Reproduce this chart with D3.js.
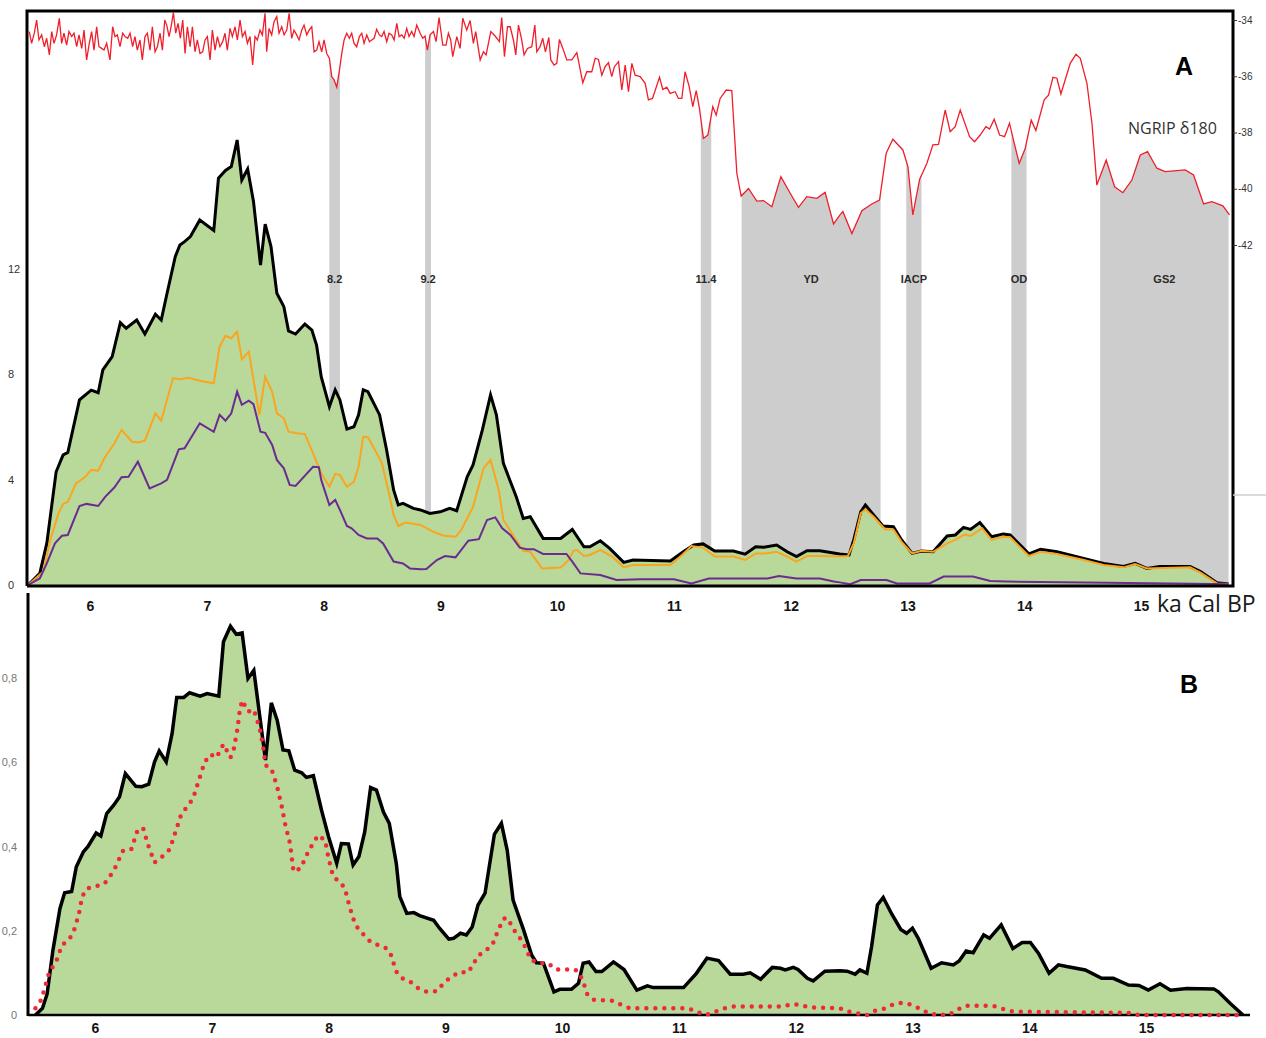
<!DOCTYPE html>
<html>
<head>
<meta charset="utf-8">
<script src="https://cdn.jsdelivr.net/npm/d3@7"></script>
<style>
body { margin: 0; background: #fff; }
svg { display: block; }
</style>
</head>
<body>
<svg width="1266" height="1038"></svg>
<script>
// ages in ka cal BP
var kaTicks = [6, 7, 8, 9, 10, 11, 12, 13, 14, 15];
var countTicksA = [0, 4, 8, 12];
var ngripTicks = [-34, -36, -38, -40, -42];
var probTicksB = [0, 0.2, 0.4, 0.6, 0.8];

// cold events
var bandNames = ["8.2", "9.2", "11.4", "YD", "IACP", "OD", "GS2"];
var bandStart = [8.05, 8.87, 11.23, 11.58, 12.99, 13.89, 14.65];
var bandEnd = [8.14, 8.92, 11.32, 12.77, 13.12, 14.02, 15.75];

// NGRIP d18O  [age, permil]
var ngrip = [
[5.480,-34.41],[5.500,-34.83],[5.523,-34.47],[5.543,-34.00],[5.563,-34.71],[5.586,-34.53],[5.609,-34.95],[5.629,-34.65],
[5.652,-35.24],[5.672,-34.41],[5.692,-34.83],[5.714,-34.53],[5.737,-33.94],[5.757,-34.83],[5.777,-34.47],[5.800,-34.89],
[5.820,-34.41],[5.843,-34.59],[5.863,-34.47],[5.886,-34.95],[5.906,-34.53],[5.929,-35.01],[5.949,-34.36],[5.971,-35.42],
[5.994,-34.83],[6.014,-34.41],[6.034,-35.07],[6.057,-34.24],[6.077,-34.95],[6.100,-35.01],[6.120,-35.07],[6.143,-34.83],
[6.171,-35.42],[6.194,-34.24],[6.214,-34.59],[6.234,-34.53],[6.257,-34.95],[6.280,-34.47],[6.300,-34.59],[6.323,-34.65],
[6.343,-34.47],[6.365,-34.95],[6.385,-34.59],[6.405,-35.07],[6.428,-34.71],[6.448,-35.42],[6.471,-34.59],[6.491,-34.47],
[6.514,-35.07],[6.534,-34.24],[6.557,-35.13],[6.577,-34.95],[6.600,-34.47],[6.620,-35.07],[6.640,-34.00],[6.657,-34.18],
[6.677,-34.59],[6.697,-34.18],[6.714,-33.74],[6.734,-34.47],[6.754,-34.12],[6.774,-34.65],[6.794,-34.00],[6.814,-35.19],
[6.834,-34.24],[6.857,-34.95],[6.877,-34.24],[6.899,-35.13],[6.919,-34.71],[6.942,-35.19],[6.965,-35.13],[6.985,-34.71],
[7.005,-34.59],[7.028,-35.42],[7.048,-34.36],[7.071,-35.07],[7.091,-34.59],[7.113,-34.95],[7.136,-34.77],[7.156,-34.47],
[7.176,-35.07],[7.199,-34.30],[7.219,-34.59],[7.242,-34.24],[7.262,-34.71],[7.285,-34.00],[7.305,-34.59],[7.328,-34.41],
[7.348,-34.83],[7.370,-34.59],[7.393,-35.60],[7.413,-34.59],[7.433,-34.71],[7.456,-34.36],[7.476,-34.53],[7.499,-33.76],
[7.513,-35.13],[7.533,-34.30],[7.556,-34.53],[7.576,-34.06],[7.599,-33.88],[7.619,-34.47],[7.642,-34.24],[7.662,-34.53],
[7.685,-34.36],[7.705,-33.76],[7.727,-34.65],[7.747,-34.36],[7.770,-34.53],[7.790,-34.71],[7.813,-34.36],[7.833,-34.18],
[7.856,-34.53],[7.876,-34.36],[7.899,-34.24],[7.919,-35.13],[7.941,-35.07],[7.961,-34.77],[7.984,-35.13],[8.004,-34.71],
[8.027,-35.19],[8.050,-35.36],[8.070,-36.01],[8.090,-36.13],[8.113,-36.39],[8.136,-35.78],[8.156,-35.19],[8.176,-34.71],
[8.198,-34.47],[8.221,-34.65],[8.241,-34.47],[8.261,-34.83],[8.284,-34.95],[8.307,-34.59],[8.327,-34.47],[8.347,-34.83],
[8.370,-34.53],[8.393,-34.77],[8.413,-34.71],[8.433,-34.65],[8.455,-34.33],[8.478,-34.53],[8.498,-34.59],[8.518,-34.41],
[8.541,-34.77],[8.561,-34.47],[8.584,-34.53],[8.604,-34.71],[8.627,-34.12],[8.647,-34.59],[8.670,-34.53],[8.690,-34.65],
[8.712,-34.30],[8.732,-34.59],[8.755,-34.41],[8.775,-34.59],[8.798,-34.18],
[8.827,-34.47],[8.850,-34.65],[8.869,-34.57],[8.889,-35.07],[8.912,-34.53],[8.941,-34.41],[8.964,-34.77],[8.989,-33.91],
[9.021,-34.89],[9.049,-34.89],[9.069,-34.47],[9.089,-34.71],[9.106,-35.30],[9.141,-34.59],[9.169,-35.01],[9.192,-33.94],
[9.226,-34.36],[9.255,-34.02],[9.283,-34.83],[9.303,-34.41],[9.341,-35.42],[9.369,-35.13],[9.392,-35.24],[9.432,-34.41],
[9.469,-34.57],[9.506,-34.77],[9.526,-33.91],[9.549,-35.30],[9.575,-34.24],[9.598,-34.24],[9.626,-34.71],[9.646,-35.24],
[9.669,-34.18],[9.697,-34.71],[9.717,-35.24],[9.746,-35.01],[9.783,-34.95],[9.809,-34.18],[9.826,-35.13],[9.854,-34.95],
[9.877,-34.65],[9.900,-35.13],[9.929,-34.62],[9.946,-35.42],[9.974,-35.60],[9.997,-35.54],[10.020,-34.69],[10.049,-35.01],
[10.083,-35.42],[10.126,-35.42],[10.169,-35.16],[10.220,-36.23],[10.254,-35.84],[10.297,-35.84],[10.326,-35.36],[10.354,-35.40],
[10.383,-35.96],[10.411,-35.66],[10.440,-35.52],[10.468,-36.01],[10.491,-35.66],[10.526,-35.48],[10.554,-36.49],[10.583,-35.60],
[10.611,-36.55],[10.640,-35.54],[10.668,-35.96],[10.711,-36.01],[10.754,-36.25],[10.782,-36.84],[10.817,-36.79],[10.877,-36.04],
[10.905,-36.47],[10.939,-36.39],[10.968,-36.61],[11.011,-36.55],[11.039,-36.79],[11.068,-36.79],[11.096,-35.84],[11.131,-36.37],
[11.162,-37.08],[11.191,-36.51],[11.219,-37.14],[11.253,-38.21],[11.291,-38.09],[11.333,-37.08],[11.362,-37.38],[11.396,-36.79],
[11.448,-36.49],[11.496,-36.51],[11.539,-39.45],[11.576,-40.26],[11.639,-39.99],[11.710,-40.44],[11.767,-40.42],[11.839,-40.64],
[11.916,-39.57],[11.996,-40.16],[12.067,-40.66],[12.138,-40.28],[12.224,-40.34],[12.295,-40.13],[12.367,-41.25],[12.424,-40.92],
[12.447,-40.81],[12.524,-41.59],[12.610,-40.78],[12.695,-40.54],[12.761,-40.40],[12.818,-38.74],[12.875,-38.24],[12.961,-38.62],
[13.004,-39.21],[13.046,-40.93],[13.104,-39.67],[13.166,-39.10],[13.218,-38.44],[13.266,-38.42],[13.323,-37.20],[13.366,-37.97],
[13.409,-37.79],[13.452,-37.20],[13.532,-38.15],[13.575,-38.33],[13.623,-38.09],[13.672,-37.79],[13.703,-37.88],[13.743,-37.53],
[13.789,-38.09],[13.832,-38.15],[13.874,-37.67],[13.908,-38.27],[13.957,-39.10],[14.009,-38.56],[14.060,-37.56],[14.100,-37.93],
[14.171,-36.84],[14.208,-36.67],[14.246,-36.04],[14.280,-36.07],[14.314,-36.63],[14.394,-35.54],[14.443,-35.22],[14.480,-35.36],
[14.537,-36.25],[14.580,-37.67],[14.622,-39.87],[14.702,-38.98],[14.774,-39.93],[14.845,-40.14],[14.922,-39.69],[14.994,-38.80],
[15.056,-38.68],[15.136,-39.27],[15.207,-39.39],[15.379,-39.33],[15.450,-39.51],[15.536,-40.54],[15.607,-40.46],[15.701,-40.61],
[15.758,-40.93]
];

// panel A: total (black), orange and purple series
var totalA = [
[5.47,0],[5.57,0.44],[5.63,1.58],[5.71,4.3],[5.77,4.94],[5.81,5.03],[5.91,7.03],[6.01,7.4],[6.07,7.3],[6.11,8.17],
[6.19,8.67],[6.26,9.96],[6.31,9.75],[6.40,10.06],[6.47,9.53],[6.56,10.28],[6.61,10.06],[6.66,11.08],[6.73,12.47],[6.77,12.91],
[6.81,13.04],[6.86,13.23],[6.94,13.86],[7.06,13.46],[7.10,15.45],[7.16,15.74],[7.21,15.89],[7.26,16.9],[7.30,15.38],[7.35,15.8],
[7.40,14.56],[7.46,12.15],[7.50,13.7],[7.55,12.85],[7.60,11.08],[7.66,10.57],[7.70,9.65],[7.76,9.53],[7.84,9.91],[7.90,9.68],
[7.94,9.11],[7.98,7.91],[8.05,6.77],[8.10,7.41],[8.14,7.03],[8.20,5.92],[8.26,6.01],[8.30,6.46],[8.34,7.41],[8.38,7.34],
[8.48,6.46],[8.54,5.13],[8.60,3.61],[8.64,3.04],[8.68,3.10],[8.77,2.91],[8.83,2.85],[8.91,2.72],[9.00,2.78],[9.08,2.91],
[9.14,2.82],[9.23,4.11],[9.28,4.56],[9.36,5.89],[9.43,7.22],[9.48,6.46],[9.54,4.62],[9.65,3.35],[9.71,2.53],[9.77,2.59],
[9.88,1.77],[10.03,1.77],[10.13,2.11],[10.23,1.45],[10.28,1.45],[10.37,1.68],[10.45,1.39],[10.57,0.86],[10.65,0.95],[10.97,0.91],
[11.08,1.26],[11.17,1.52],[11.25,1.56],[11.35,1.29],[11.51,1.29],[11.61,1.17],[11.70,1.45],[11.77,1.43],[11.88,1.52],[11.97,1.26],
[12.05,1.08],[12.14,1.30],[12.25,1.30],[12.42,1.18],[12.50,1.14],[12.54,1.71],[12.60,2.78],[12.64,3.04],[12.71,2.66],[12.79,2.24],
[12.88,2.21],[12.95,1.71],[13.04,1.20],[13.12,1.29],[13.22,1.26],[13.34,1.86],[13.41,1.90],[13.48,2.19],[13.54,2.11],[13.62,2.37],
[13.72,1.83],[13.82,1.94],[13.88,1.90],[14.04,1.18],[14.14,1.36],[14.28,1.26],[14.51,1.01],[14.68,0.82],[14.85,0.70],[14.95,0.82],
[15.05,0.63],[15.16,0.70],[15.42,0.70],[15.51,0.51],[15.65,0.09],[15.75,0.04]
];

var orangeA = [
[5.47,0],[5.60,0.51],[5.66,1.71],[5.73,2.72],[5.77,3.08],[5.81,3.16],[5.88,3.86],[5.96,4.11],[6.01,4.37],[6.07,4.34],
[6.13,4.87],[6.21,5.38],[6.27,5.89],[6.36,5.44],[6.41,5.41],[6.47,5.48],[6.56,6.52],[6.61,6.24],[6.71,7.85],[6.77,7.81],
[6.84,7.87],[6.94,7.76],[7.06,7.66],[7.11,9.05],[7.16,9.46],[7.21,9.37],[7.26,9.62],[7.30,8.57],[7.36,8.86],[7.45,6.46],
[7.50,7.91],[7.56,7.34],[7.60,6.52],[7.66,6.33],[7.70,5.82],[7.77,5.76],[7.84,5.73],[7.91,5.0],[7.98,4.24],[8.05,3.73],
[8.10,4.22],[8.14,4.18],[8.20,3.73],[8.26,3.92],[8.30,4.49],[8.34,5.63],[8.38,5.61],[8.44,5.13],[8.50,4.62],[8.56,3.48],
[8.60,2.66],[8.64,2.24],[8.70,2.37],[8.83,2.28],[8.94,2.02],[9.03,1.87],[9.13,1.83],[9.18,2.09],[9.28,2.97],[9.37,4.43],
[9.43,4.75],[9.50,3.61],[9.54,2.47],[9.64,1.77],[9.71,1.30],[9.77,1.26],[9.87,0.63],[10.03,0.66],[10.10,0.95],[10.14,1.30],
[10.17,1.33],[10.23,1.10],[10.28,1.14],[10.37,1.33],[10.47,1.08],[10.57,0.67],[10.65,0.76],[10.97,0.76],[11.07,1.14],[11.15,1.48],
[11.25,1.42],[11.35,1.08],[11.51,1.08],[11.61,0.95],[11.70,1.20],[11.78,1.20],[11.88,1.26],[11.97,1.08],[12.05,0.89],[12.14,1.10],
[12.28,1.10],[12.42,1.08],[12.49,1.10],[12.54,1.58],[12.60,2.72],[12.64,2.87],[12.71,2.59],[12.81,2.11],[12.88,2.11],[12.95,1.64],
[13.04,1.20],[13.12,1.30],[13.22,1.26],[13.34,1.58],[13.41,1.71],[13.49,1.92],[13.54,1.86],[13.64,2.15],[13.72,1.71],[13.82,1.83],
[13.88,1.81],[14.04,1.10],[14.14,1.26],[14.28,1.18],[14.51,0.95],[14.68,0.76],[14.85,0.67],[14.95,0.80],[15.05,0.63],[15.42,0.67],
[15.51,0.47],[15.65,0.06],[15.75,0.04]
];

var purpleA = [
[5.47,0],[5.57,0.25],[5.63,0.82],[5.70,1.58],[5.76,1.87],[5.81,1.90],[5.91,3.0],[5.97,3.08],[6.07,3.0],[6.13,3.35],
[6.21,3.71],[6.27,4.09],[6.33,4.11],[6.41,4.68],[6.51,3.67],[6.61,3.86],[6.66,3.99],[6.76,5.15],[6.81,5.19],[6.94,6.14],
[7.06,5.82],[7.11,6.46],[7.16,6.24],[7.21,6.52],[7.26,7.34],[7.30,6.84],[7.36,7.0],[7.40,6.87],[7.46,5.82],[7.50,5.78],
[7.56,5.32],[7.60,4.75],[7.66,4.43],[7.71,3.80],[7.76,3.76],[7.91,4.49],[7.96,4.47],[7.98,3.99],[8.05,3.04],[8.10,3.23],
[8.14,2.85],[8.20,2.24],[8.24,2.15],[8.30,1.90],[8.37,1.77],[8.46,1.77],[8.51,1.58],[8.60,0.89],[8.68,0.82],[8.74,0.63],
[8.83,0.60],[8.88,0.61],[8.97,0.95],[9.04,1.10],[9.13,1.05],[9.24,1.68],[9.33,1.74],[9.40,2.47],[9.47,2.57],[9.53,2.15],
[9.60,1.90],[9.68,1.42],[9.74,1.36],[9.80,1.36],[9.88,1.18],[10.08,1.18],[10.13,0.89],[10.20,0.44],[10.37,0.38],[10.51,0.19],
[10.71,0.22],[11.00,0.22],[11.15,0.06],[11.30,0.25],[11.80,0.25],[11.90,0.34],[12.05,0.25],[12.25,0.25],[12.37,0.13],[12.42,0.10],
[12.51,0.03],[12.60,0.19],[12.82,0.19],[12.91,0.06],[13.19,0.06],[13.31,0.32],[13.56,0.32],[13.71,0.15],[13.85,0.13],[14.71,0.09],
[15.62,0.04],[15.75,0.03]
];

// panel B: black curve and red dotted curve
var totalB = [
[5.49,0],[5.55,0.016],[5.59,0.05],[5.64,0.154],[5.70,0.253],[5.74,0.29],[5.80,0.293],[5.84,0.352],[5.90,0.387],[5.94,0.40],
[6.01,0.432],[6.05,0.425],[6.10,0.478],[6.16,0.498],[6.21,0.518],[6.26,0.573],[6.35,0.543],[6.40,0.542],[6.46,0.548],[6.51,0.601],
[6.55,0.627],[6.61,0.601],[6.66,0.668],[6.70,0.754],[6.76,0.754],[6.81,0.765],[6.90,0.757],[6.96,0.763],[7.06,0.757],[7.10,0.886],
[7.16,0.923],[7.21,0.904],[7.26,0.907],[7.31,0.799],[7.36,0.818],[7.46,0.605],[7.51,0.741],[7.56,0.70],[7.61,0.629],[7.66,0.627],
[7.71,0.581],[7.77,0.575],[7.81,0.564],[7.87,0.568],[7.94,0.486],[8.00,0.423],[8.07,0.360],[8.11,0.407],[8.17,0.406],[8.21,0.356],
[8.26,0.376],[8.31,0.435],[8.36,0.540],[8.41,0.534],[8.47,0.482],[8.52,0.455],[8.58,0.360],[8.61,0.281],[8.67,0.241],[8.73,0.243],
[8.78,0.236],[8.90,0.225],[8.95,0.206],[9.03,0.180],[9.07,0.182],[9.13,0.194],[9.18,0.190],[9.23,0.209],[9.28,0.261],[9.34,0.289],
[9.42,0.429],[9.48,0.455],[9.53,0.391],[9.58,0.273],[9.67,0.202],[9.74,0.142],[9.78,0.124],[9.84,0.123],[9.93,0.055],[9.98,0.061],
[10.08,0.061],[10.14,0.075],[10.18,0.123],[10.23,0.126],[10.29,0.103],[10.34,0.103],[10.44,0.126],[10.53,0.108],[10.64,0.059],[10.73,0.069],
[10.78,0.065],[11.04,0.065],[11.15,0.099],[11.24,0.135],[11.34,0.129],[11.44,0.097],[11.55,0.097],[11.61,0.100],[11.70,0.085],[11.80,0.113],
[11.87,0.111],[11.91,0.107],[11.98,0.113],[12.02,0.108],[12.10,0.087],[12.15,0.081],[12.25,0.104],[12.38,0.105],[12.44,0.104],[12.51,0.097],
[12.55,0.107],[12.61,0.099],[12.65,0.162],[12.70,0.261],[12.75,0.279],[12.82,0.241],[12.90,0.203],[12.95,0.194],[13.00,0.206],[13.05,0.182],
[13.16,0.111],[13.25,0.124],[13.35,0.119],[13.40,0.128],[13.46,0.152],[13.52,0.148],[13.61,0.190],[13.66,0.182],[13.76,0.214],[13.86,0.158],
[13.94,0.172],[14.01,0.172],[14.08,0.146],[14.17,0.099],[14.25,0.119],[14.32,0.115],[14.48,0.107],[14.62,0.087],[14.72,0.087],[14.85,0.071],
[14.94,0.070],[15.02,0.059],[15.12,0.074],[15.21,0.059],[15.35,0.063],[15.58,0.062],[15.62,0.055],[15.72,0.028],[15.83,0]
];

var redB = [
[5.49,0.016],[5.54,0.036],[5.61,0.103],[5.66,0.123],[5.69,0.142],[5.71,0.164],[5.77,0.178],[5.81,0.192],[5.86,0.237],[5.89,0.281],
[5.93,0.30],[6.01,0.306],[6.08,0.311],[6.13,0.33],[6.17,0.348],[6.24,0.390],[6.31,0.393],[6.36,0.435],[6.41,0.445],[6.46,0.399],
[6.51,0.362],[6.58,0.377],[6.64,0.393],[6.69,0.435],[6.74,0.478],[6.79,0.494],[6.84,0.514],[6.89,0.558],[6.94,0.601],[6.99,0.619],
[7.04,0.611],[7.10,0.643],[7.16,0.611],[7.19,0.633],[7.22,0.679],[7.24,0.724],[7.26,0.747],[7.31,0.720],[7.36,0.725],[7.41,0.680],
[7.44,0.637],[7.46,0.593],[7.51,0.585],[7.56,0.542],[7.60,0.494],[7.63,0.451],[7.67,0.407],[7.70,0.340],[7.76,0.348],[7.83,0.390],
[7.91,0.427],[7.97,0.415],[8.00,0.372],[8.04,0.328],[8.10,0.316],[8.14,0.30],[8.18,0.257],[8.23,0.213],[8.28,0.198],[8.33,0.180],
[8.40,0.168],[8.48,0.162],[8.53,0.146],[8.58,0.103],[8.64,0.085],[8.71,0.077],[8.77,0.063],[8.84,0.055],[8.93,0.057],[8.98,0.074],
[9.05,0.091],[9.13,0.103],[9.19,0.100],[9.24,0.119],[9.27,0.138],[9.34,0.153],[9.40,0.164],[9.43,0.186],[9.46,0.206],[9.50,0.229],
[9.54,0.229],[9.57,0.208],[9.62,0.190],[9.67,0.170],[9.70,0.150],[9.74,0.130],[9.81,0.123],[9.88,0.123],[9.95,0.108],[10.11,0.108],
[10.15,0.099],[10.19,0.071],[10.21,0.051],[10.27,0.036],[10.43,0.034],[10.51,0.024],[10.58,0.016],[11.08,0.016],[11.15,0.008],[11.23,0],
[11.31,0.008],[11.39,0.016],[11.47,0.020],[11.88,0.020],[11.97,0.026],[12.04,0.024],[12.12,0.018],[12.38,0.016],[12.45,0.008],[12.61,0],
[12.68,0.010],[12.77,0.016],[12.84,0.026],[12.92,0.029],[13.00,0.024],[13.07,0.014],[13.15,0.002],[13.31,0],[13.38,0.012],[13.45,0.022],
[13.69,0.022],[13.78,0.014],[13.86,0.008],[14.85,0.005],[14.94,0],[15.85,0]
];

var svg = d3.select("svg");
var green = "#b9d99b";

var xA = d3.scaleLinear().domain([6, 15]).range([90, 1141]);
var yA = d3.scaleLinear().domain([0, 12]).range([585, 269]);
var yN = d3.scaleLinear().domain([-34, -42]).range([20, 245]);
var xB = d3.scaleLinear().domain([6, 15]).range([95, 1146]);
var yB = d3.scaleLinear().domain([0, 0.8]).range([1015, 678]);

// ---------- panel A ----------
// grey event bands, topped by the NGRIP curve
var clip = svg.append("clipPath").attr("id", "bands");
clip.selectAll("rect")
    .data(bandNames)
    .enter()
    .append("rect")
    .attr("x", function(d, i) { return xA(bandStart[i]); })
    .attr("width", function(d, i) { return xA(bandEnd[i]) - xA(bandStart[i]); })
    .attr("y", 0)
    .attr("height", yA(0));

var bandArea = d3.area()
    .x(function(d) { return xA(d[0]); })
    .y0(yA(0))
    .y1(function(d) { return yN(d[1]); });

svg.append("path")
    .datum(ngrip)
    .attr("d", bandArea)
    .attr("fill", "#cdcdcd")
    .attr("clip-path", "url(#bands)");

svg.selectAll(".bandlabel")
    .data(bandNames)
    .enter()
    .append("text")
    .attr("class", "bandlabel")
    .attr("x", function(d, i) { return xA((bandStart[i] + bandEnd[i]) / 2); })
    .attr("y", 283)
    .attr("text-anchor", "middle")
    .attr("font-family", "Liberation Sans, Arial, sans-serif")
    .attr("font-size", 11)
    .attr("font-weight", "bold")
    .attr("fill", "#2a2a2a")
    .text(function(d) { return d; });

var areaA = d3.area()
    .x(function(d) { return xA(d[0]); })
    .y0(yA(0))
    .y1(function(d) { return yA(d[1]); });

var lineA = d3.line()
    .x(function(d) { return xA(d[0]); })
    .y(function(d) { return yA(d[1]); });

svg.append("path").datum(totalA).attr("d", areaA).attr("fill", green);
svg.append("path").datum(totalA).attr("d", lineA)
    .attr("fill", "none").attr("stroke", "#000").attr("stroke-width", 3);
svg.append("path").datum(orangeA).attr("d", lineA)
    .attr("fill", "none").attr("stroke", "#fba51f").attr("stroke-width", 2);
svg.append("path").datum(purpleA).attr("d", lineA)
    .attr("fill", "none").attr("stroke", "#6a2c91").attr("stroke-width", 2);

var ngripLine = d3.line()
    .x(function(d) { return xA(d[0]); })
    .y(function(d) { return yN(d[1]); });

svg.append("path").datum(ngrip).attr("d", ngripLine)
    .attr("fill", "none").attr("stroke", "#f01e2a").attr("stroke-width", 1.3);

// frame
var frame = [[27, 586], [27, 11], [1233, 11], [1233, 586], [27, 586]];
svg.append("path")
    .attr("d", d3.line()(frame))
    .attr("fill", "none").attr("stroke", "#000").attr("stroke-width", 3);
svg.append("line")
    .attr("x1", 1233).attr("x2", 1266).attr("y1", 495).attr("y2", 495)
    .attr("stroke", "#cfcfcf").attr("stroke-width", 1.5);

// axes
var axA = svg.append("g")
    .attr("transform", "translate(0,585)")
    .call(d3.axisBottom(xA).tickValues(kaTicks).tickSize(0).tickPadding(16));
axA.select(".domain").remove();
axA.attr("font-size", 14).attr("font-weight", "bold")
    .attr("font-family", "Liberation Sans, Arial, sans-serif").attr("color", "#151515");

var ayA = svg.append("g")
    .attr("transform", "translate(27,0)")
    .call(d3.axisLeft(yA).tickValues(countTicksA).tickSize(0));
ayA.select(".domain").remove();
ayA.attr("font-size", 11).attr("font-family", "Liberation Sans, Arial, sans-serif").attr("color", "#333");
ayA.selectAll("text").attr("x", -19).attr("text-anchor", "start");

var ayN = svg.append("g")
    .attr("transform", "translate(1233,0)")
    .call(d3.axisRight(yN).tickValues(ngripTicks).tickSize(4).tickPadding(1)
        .tickFormat(function(d) { return String(d); }));
ayN.select(".domain").remove();
ayN.attr("font-size", 10).attr("font-family", "Liberation Sans, Arial, sans-serif").attr("color", "#333");

svg.append("text")
    .attr("x", 1157).attr("y", 612)
    .attr("font-family", "Open Sans, sans-serif").attr("font-size", 23)
    .attr("fill", "#1a1a1a")
    .text("ka Cal BP");

svg.append("text")
    .attr("x", 1128).attr("y", 134)
    .attr("font-family", "Open Sans, sans-serif").attr("font-size", 16)
    .attr("fill", "#333")
    .text("NGRIP δ180");

svg.append("text")
    .attr("x", 1184).attr("y", 75)
    .attr("text-anchor", "middle")
    .attr("font-family", "Liberation Sans, Arial, sans-serif").attr("font-size", 25)
    .attr("font-weight", "bold")
    .text("A");

// ---------- panel B ----------
var areaB = d3.area()
    .x(function(d) { return xB(d[0]); })
    .y0(yB(0))
    .y1(function(d) { return yB(d[1]); });

var lineB = d3.line()
    .x(function(d) { return xB(d[0]); })
    .y(function(d) { return yB(d[1]); });

svg.append("path").datum(totalB).attr("d", areaB).attr("fill", green);

svg.append("line")
    .attr("x1", 28).attr("x2", 1250).attr("y1", 1015).attr("y2", 1015)
    .attr("stroke", "#000").attr("stroke-width", 2.5);
svg.append("line")
    .attr("x1", 28).attr("x2", 28).attr("y1", 593).attr("y2", 1016)
    .attr("stroke", "#000").attr("stroke-width", 3);

svg.append("path").datum(totalB).attr("d", lineB)
    .attr("fill", "none").attr("stroke", "#000").attr("stroke-width", 3.5);

svg.append("path").datum(redB).attr("d", lineB)
    .attr("fill", "none").attr("stroke", "#ee2a3a").attr("stroke-width", 4.5)
    .attr("stroke-linecap", "round").attr("stroke-dasharray", "0,9");

var axB = svg.append("g")
    .attr("transform", "translate(0,1015)")
    .call(d3.axisBottom(xB).tickValues(kaTicks).tickSize(0).tickPadding(8));
axB.select(".domain").remove();
axB.attr("font-size", 14).attr("font-weight", "bold")
    .attr("font-family", "Liberation Sans, Arial, sans-serif").attr("color", "#151515");

var ayB = svg.append("g")
    .attr("transform", "translate(28,0)")
    .call(d3.axisLeft(yB).tickValues(probTicksB).tickSize(0).tickPadding(11)
        .tickFormat(function(d) { return d === 0 ? "0" : d.toFixed(1).replace(".", ","); }));
ayB.select(".domain").remove();
ayB.attr("font-size", 11).attr("font-family", "Liberation Sans, Arial, sans-serif").attr("color", "#777");

svg.append("text")
    .attr("x", 1189).attr("y", 693)
    .attr("text-anchor", "middle")
    .attr("font-family", "Liberation Sans, Arial, sans-serif").attr("font-size", 25)
    .attr("font-weight", "bold")
    .text("B");
</script>
</body>
</html>
